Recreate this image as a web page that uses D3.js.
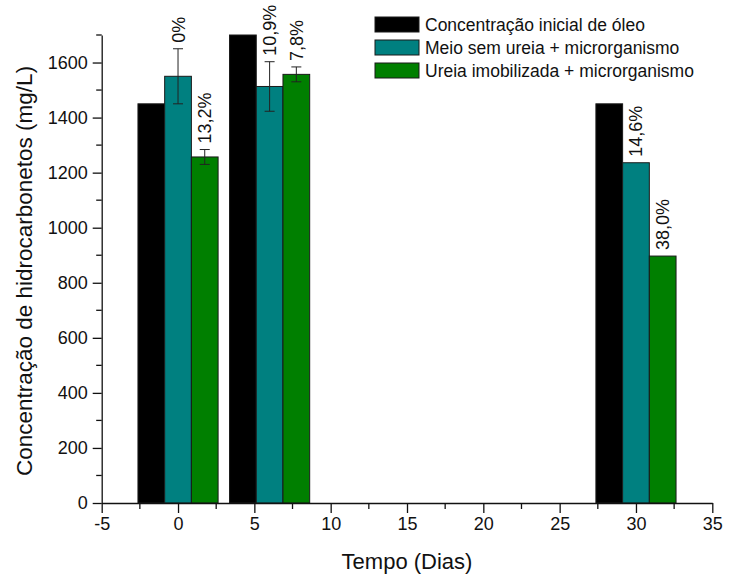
<!DOCTYPE html>
<html>
<head>
<meta charset="utf-8">
<script src="https://cdn.jsdelivr.net/npm/d3@7"></script>
<style>
  body { margin: 0; background: #fff; }
  text { font-family: Arial, "Liberation Sans", sans-serif; }
</style>
</head>
<body>
<div class="canvas"></div>
<script>
// data
const days = [0, 6, 30];
const seriesNames = ["Concentração inicial de óleo", "Meio sem ureia + microrganismo", "Ureia imobilizada + microrganismo"];
const seriesColors = ["#000000", "#008080", "#007f00"];
const oleoInicial = [1450, 1700, 1450];
const semUreia = [1550, 1513, 1236];
const ureiaImob = [1257, 1557, 897];
const erroSemUreia = [100, 90, 0];
const erroUreia = [27, 27, 0];
const rotSemUreia = ["0%", "10,9%", "14,6%"];
const rotUreia = ["13,2%", "7,8%", "38,0%"];
const xTicks = [-5, 0, 5, 10, 15, 20, 25, 30, 35];
const yTicks = [0, 200, 400, 600, 800, 1000, 1200, 1400, 1600];

const dims = {width: 735, height: 577};
const margin = {left: 101.7, right: 22.7, top: 35, bottom: 74};

const svg = d3.select(".canvas")
    .append("svg")
    .attr("width", dims.width)
    .attr("height", dims.height);

const x = d3.scaleLinear().domain([-5, 35]).range([margin.left, dims.width - margin.right]);
const y = d3.scaleLinear().domain([0, 1700]).range([dims.height - margin.bottom, margin.top]);

const barW = 1.75; // in days
const offsets = [-barW, 0, barW];
const values = [oleoInicial, semUreia, ureiaImob];
const errors = [null, erroSemUreia, erroUreia];
const labels = [null, rotSemUreia, rotUreia];

// bars
const bars = [];
values.forEach((vals, s) => {
    vals.forEach((v, i) => {
        bars.push({s, day: days[i], v, err: errors[s] ? errors[s][i] : 0, lab: labels[s] ? labels[s][i] : null});
    });
});

const graph = svg.append("g");

graph.selectAll("rect.bar")
    .data(bars)
    .enter()
    .append("rect")
    .attr("class", "bar")
    .attr("x", d => x(d.day + offsets[d.s] - barW / 2))
    .attr("width", d => x(d.day + barW / 2) - x(d.day - barW / 2))
    .attr("y", d => y(d.v))
    .attr("height", d => y(0) - y(d.v))
    .attr("fill", d => seriesColors[d.s])
    .attr("stroke", "#1a1a1a")
    .attr("stroke-width", 1);

// error bars
const errG = graph.selectAll("g.err")
    .data(bars.filter(d => d.err > 0))
    .enter()
    .append("g")
    .attr("class", "err")
    .attr("stroke", "#222")
    .attr("stroke-width", 1);
errG.append("line")
    .attr("x1", d => x(d.day + offsets[d.s]))
    .attr("x2", d => x(d.day + offsets[d.s]))
    .attr("y1", d => y(d.v - d.err))
    .attr("y2", d => y(d.v + d.err));
[-1, 1].forEach(sign => {
    errG.append("line")
        .attr("x1", d => x(d.day + offsets[d.s]) - 5)
        .attr("x2", d => x(d.day + offsets[d.s]) + 5)
        .attr("y1", d => y(d.v + sign * d.err))
        .attr("y2", d => y(d.v + sign * d.err));
});

// percentage labels
graph.selectAll("text.pct")
    .data(bars.filter(d => d.lab))
    .enter()
    .append("text")
    .attr("class", "pct")
    .attr("transform", d => `translate(${x(d.day + offsets[d.s]) + 6.5}, ${y(d.v + d.err) - 6}) rotate(-90)`)
    .attr("font-size", "18px")
    .attr("fill", "#111")
    .text(d => d.lab);

// axes
const xAxis = svg.append("g")
    .attr("transform", `translate(0, ${y(0)})`)
    .call(d3.axisBottom(x).tickValues(xTicks).tickFormat(d3.format("d")).tickSize(10).tickPadding(4).tickSizeOuter(0));
const yAxis = svg.append("g")
    .attr("transform", `translate(${x(-5)}, 0)`)
    .call(d3.axisLeft(y).tickValues(yTicks).tickFormat(d3.format("d")).tickSize(9).tickPadding(5).tickSizeOuter(0));
[xAxis, yAxis].forEach(a => {
    a.selectAll("text").attr("font-size", "18px").attr("fill", "#111").style("font-family", "Arial, 'Liberation Sans', sans-serif");
    a.select(".domain").attr("stroke", "#111").attr("stroke-width", 1.3);
    a.selectAll(".tick line").attr("stroke", "#111").attr("stroke-width", 1.3);
});
xAxis.selectAll("text").text(d => String(d).replace("\u2212", "-"));

// minor ticks
svg.append("g").selectAll("line")
    .data(d3.range(-2.5, 35, 5))
    .enter().append("line")
    .attr("x1", d => x(d)).attr("x2", d => x(d))
    .attr("y1", y(0)).attr("y2", y(0) + 6)
    .attr("stroke", "#111").attr("stroke-width", 1.3);
svg.append("g").selectAll("line")
    .data(d3.range(100, 1800, 200))
    .enter().append("line")
    .attr("x1", x(-5) - 5.5).attr("x2", x(-5))
    .attr("y1", d => y(d)).attr("y2", d => y(d))
    .attr("stroke", "#111").attr("stroke-width", 1.3);

// axis titles
svg.append("text")
    .attr("x", (x(-5) + x(35)) / 2)
    .attr("y", 569)
    .attr("text-anchor", "middle")
    .attr("font-size", "22px")
    .attr("fill", "#111")
    .text("Tempo (Dias)");
svg.append("text")
    .attr("transform", `translate(32, ${(y(0) + y(1700)) / 2 + 2}) rotate(-90)`)
    .attr("text-anchor", "middle")
    .attr("font-size", "22.5px")
    .attr("fill", "#111")
    .text("Concentração de hidrocarbonetos (mg/L)");

// legend
const legend = svg.append("g").attr("transform", "translate(375, 17)");
const items = legend.selectAll("g")
    .data(seriesNames)
    .enter().append("g")
    .attr("transform", (d, i) => `translate(0, ${i * 23})`);
items.append("rect")
    .attr("width", 44).attr("height", 15)
    .attr("fill", (d, i) => seriesColors[i])
    .attr("stroke", "#1a1a1a").attr("stroke-width", 1);
items.append("text")
    .attr("x", 50).attr("y", 14)
    .attr("font-size", "17.5px")
    .attr("fill", "#111")
    .text(d => d);
</script>
</body>
</html>
